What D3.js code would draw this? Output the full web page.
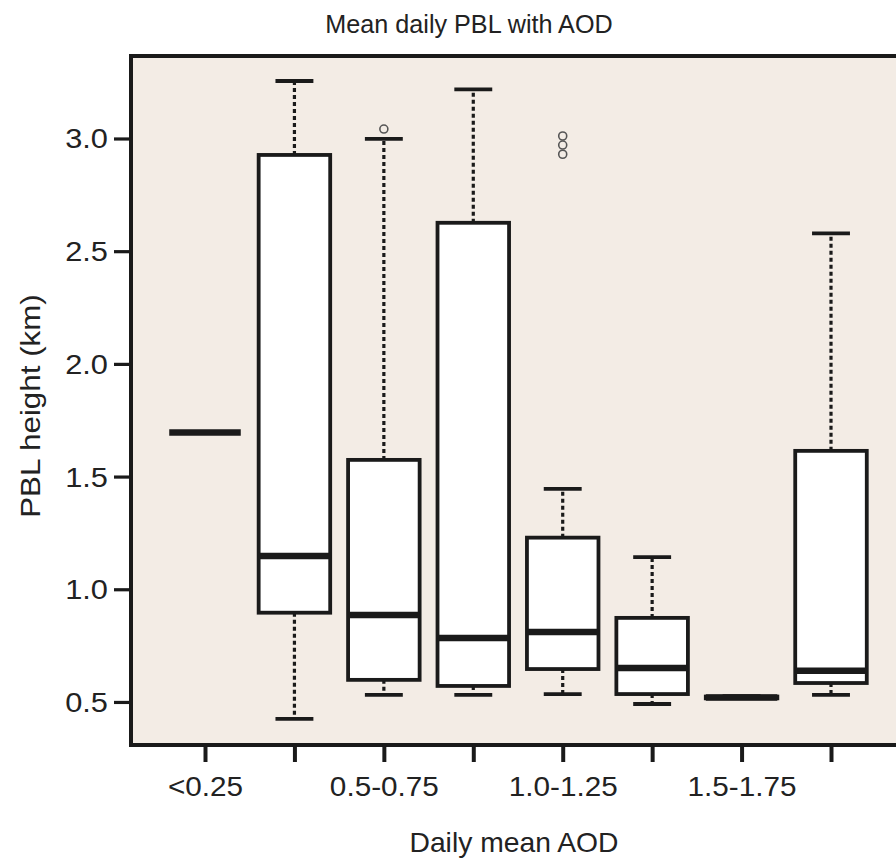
<!DOCTYPE html>
<html>
<head>
<meta charset="utf-8">
<script src="https://cdn.jsdelivr.net/npm/d3@7"></script>
<style>
  html, body { margin: 0; padding: 0; background: #ffffff; }
  svg { display: block; font-family: "Liberation Sans", Arial, sans-serif; }
</style>
</head>
<body>
<svg id="chart" width="896" height="859"></svg>
<script>
// ---- data ----
const categories = ["<0.25", "0.25-0.5", "0.5-0.75", "0.75-1.0", "1.0-1.25", "1.25-1.5", "1.5-1.75", ">1.75"];
const tickLabels = ["<0.25", "", "0.5-0.75", "", "1.0-1.25", "", "1.5-1.75", ""];
const whiskerLow  = [1.695, 0.425, 0.531, 0.531, 0.535, 0.491, 0.518, 0.531];
const q1          = [1.695, 0.896, 0.598, 0.571, 0.646, 0.535, 0.516, 0.584];
const medians     = [1.695, 1.148, 0.886, 0.784, 0.810, 0.651, 0.520, 0.638];
const q3          = [1.695, 2.927, 1.574, 2.626, 1.229, 0.873, 0.524, 1.614];
const whiskerHigh = [1.695, 3.255, 2.998, 3.218, 1.445, 1.143, 0.526, 2.579];
const outliers    = [[], [], [3.042], [], [3.011, 2.971, 2.930], [], [], []];
const yTicks = [0.5, 1.0, 1.5, 2.0, 2.5, 3.0];
const titleText = "Mean daily PBL with AOD";
const xTitle = "Daily mean AOD";
const yTitle = "PBL height (km)";

// ---- layout ----
const svg = d3.select("#chart");
const plotLeft = 131, plotTop = 56, plotBottom = 745, plotRight = 910;
const ink = "#1a1a1a";
const bg = "#f3ece5";

const y = d3.scaleLinear().domain([0.309, 3.366]).range([plotBottom, plotTop]);
const x = d3.scalePoint().domain(categories).range([205, 831]);
const step = x.step();
const boxW = step * 0.8;
const capW = boxW * 0.53;

// panel background
svg.append("rect").attr("x", plotLeft).attr("y", plotTop)
  .attr("width", plotRight - plotLeft).attr("height", plotBottom - plotTop).attr("fill", bg);

const boxes = categories.map((c, i) => ({
  c, lo: whiskerLow[i], q1: q1[i], med: medians[i], q3: q3[i], hi: whiskerHigh[i], out: outliers[i]
}));

const g = svg.append("g");
const bx = g.selectAll("g.box").data(boxes).join("g").attr("class", "box")
  .attr("transform", d => `translate(${x(d.c)},0)`);

// whiskers (dashed)
bx.append("line").attr("x1", 0).attr("x2", 0)
  .attr("y1", d => y(d.q3)).attr("y2", d => y(d.hi))
  .attr("stroke", ink).attr("stroke-width", 3.2).attr("stroke-dasharray", "4,3");
bx.append("line").attr("x1", 0).attr("x2", 0)
  .attr("y1", d => y(d.q1)).attr("y2", d => y(d.lo))
  .attr("stroke", ink).attr("stroke-width", 3.2).attr("stroke-dasharray", "4,3");
// caps
bx.append("line").attr("x1", -capW / 2).attr("x2", capW / 2)
  .attr("y1", d => y(d.hi)).attr("y2", d => y(d.hi))
  .attr("stroke", ink).attr("stroke-width", 3.8);
bx.append("line").attr("x1", -capW / 2).attr("x2", capW / 2)
  .attr("y1", d => y(d.lo)).attr("y2", d => y(d.lo))
  .attr("stroke", ink).attr("stroke-width", 3.8);
// box
bx.append("rect").attr("x", -boxW / 2).attr("width", boxW)
  .attr("y", d => y(d.q3)).attr("height", d => Math.max(0, y(d.q1) - y(d.q3)))
  .attr("fill", "#ffffff").attr("stroke", ink).attr("stroke-width", 3.8);
// median
bx.append("line").attr("x1", -boxW / 2).attr("x2", boxW / 2)
  .attr("y1", d => y(d.med)).attr("y2", d => y(d.med))
  .attr("stroke", ink).attr("stroke-width", 6.5);
// outliers
bx.selectAll("circle").data(d => d.out).join("circle")
  .attr("cx", 0).attr("cy", v => y(v)).attr("r", 4)
  .attr("fill", "none").attr("stroke", "#555").attr("stroke-width", 1.6);

// frame lines
svg.append("line").attr("x1", plotLeft - 2).attr("x2", plotRight).attr("y1", plotTop).attr("y2", plotTop)
  .attr("stroke", ink).attr("stroke-width", 4);
svg.append("line").attr("x1", plotLeft).attr("x2", plotLeft).attr("y1", plotTop - 2).attr("y2", plotBottom + 2)
  .attr("stroke", ink).attr("stroke-width", 4);
svg.append("line").attr("x1", plotLeft - 2).attr("x2", plotRight).attr("y1", plotBottom).attr("y2", plotBottom)
  .attr("stroke", ink).attr("stroke-width", 4);

function stretch(sel, k) {
  sel.each(function () {
    const w = this.getComputedTextLength();
    if (w > 0) d3.select(this).attr("textLength", w * k).attr("lengthAdjust", "spacingAndGlyphs");
  });
}

// y axis
const yAxis = svg.append("g").attr("transform", `translate(${plotLeft},0)`)
  .call(d3.axisLeft(y).tickValues(yTicks).tickFormat(d3.format(".1f")).tickSize(17).tickPadding(6));
yAxis.select(".domain").remove();
yAxis.selectAll(".tick line").attr("stroke", ink).attr("stroke-width", 3.2);
yAxis.selectAll(".tick text").attr("fill", "#222").attr("font-size", 27)
  .attr("font-family", "Liberation Sans, Arial, sans-serif").attr("dy", "0.35em");
stretch(yAxis.selectAll(".tick text"), 1.14);

// x axis
const xAxis = svg.append("g").attr("transform", `translate(0,${plotBottom})`)
  .call(d3.axisBottom(x).tickFormat((d, i) => tickLabels[i]).tickSize(17).tickPadding(15));
xAxis.select(".domain").remove();
xAxis.selectAll(".tick line").attr("stroke", ink).attr("stroke-width", 4);
xAxis.selectAll(".tick text").attr("fill", "#222").attr("font-size", 27)
  .attr("font-family", "Liberation Sans, Arial, sans-serif");
stretch(xAxis.selectAll(".tick text"), 1.1);

// titles
const tt = svg.append("text").attr("x", 469).attr("y", 33).attr("text-anchor", "middle")
  .attr("font-size", 26.5).attr("fill", "#222").text(titleText);
stretch(tt, 0.95);
const xt = svg.append("text").attr("x", 514).attr("y", 852).attr("text-anchor", "middle")
  .attr("font-size", 28).attr("fill", "#222").text(xTitle);
stretch(xt, 1.01);
const yt = svg.append("text").attr("transform", "translate(40,406) rotate(-90)")
  .attr("text-anchor", "middle").attr("font-size", 28.5).attr("fill", "#222").text(yTitle);
stretch(yt, 1.1);
</script>
</body>
</html>
